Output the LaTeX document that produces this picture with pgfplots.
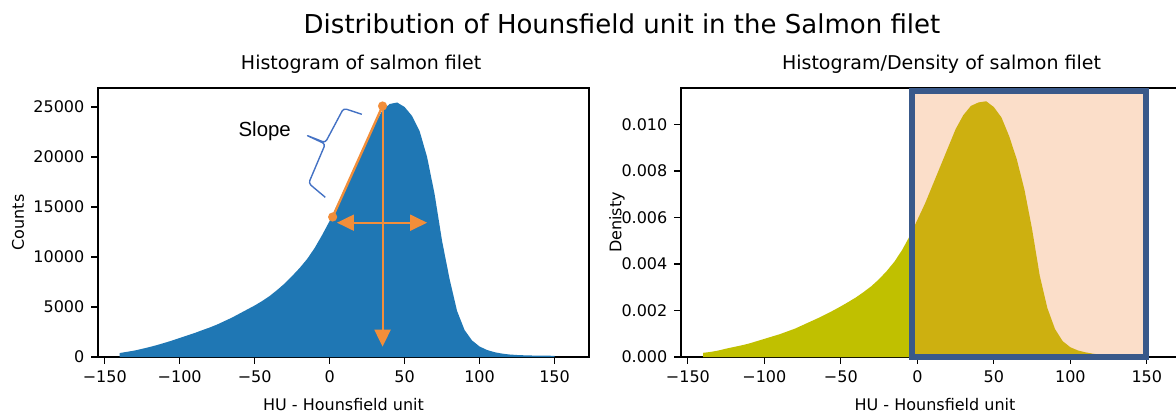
\documentclass[border=0pt]{standalone}
\usepackage{fontspec}
\setmainfont{DejaVu Sans}
\newfontfamily\slopefont{Liberation Sans}
\usepackage{pgfplots}
\pgfplotsset{compat=1.18}
\usetikzlibrary{arrows.meta}

\definecolor{mplblue}{RGB}{31,119,180}
\definecolor{olive}{RGB}{192,192,0}
\definecolor{peach}{RGB}{240,135,60}
\definecolor{boxblue}{RGB}{57,89,138}
\definecolor{annorange}{RGB}{242,142,58}
\definecolor{braceblue}{RGB}{68,114,196}

\pgfplotsset{
  salmon/.style={
    scale only axis,
    anchor=south west,
    height=134.5pt,
    xmin=-154.5, xmax=173,
    xtick={-150,-100,-50,0,50,100,150},
    xticklabels={−150,−100,−50,0,50,100,150},
    scaled ticks=false,
    tick align=outside,
    xtick pos=lower, ytick pos=left,
    major tick length=3.3pt,
    tick style={black, line width=0.6pt},
    axis line style={line width=0.6pt},
    ticklabel style={font=\fontsize{8}{9}\selectfont},
    label style={font=\fontsize{8}{9}\selectfont},
    title style={font=\fontsize{9.5}{11}\selectfont, anchor=base, yshift=3.3pt},
    clip=false,
  }
}

\begin{document}
\begin{tikzpicture}[x=1pt,y=1pt]

\node[font=\fontsize{13}{15}\selectfont, anchor=base] at (311,189.4)
  {Distribution of Hounsfield unit in the Salmon filet};

% left: counts
\begin{axis}[salmon,
  at={(49pt,27.5pt)}, width=245.5pt,
  ymin=0, ymax=26900,
  ytick={0,5000,10000,15000,20000,25000},
  yticklabels={0,5000,10000,15000,20000,25000},
  title={Histogram of salmon filet},
  title style={at={(0.536,1)}},
  xlabel={HU - Hounsfield unit},
  xlabel style={at={(axis description cs:0.5,0)}, anchor=base, yshift=-26.5pt},
  ylabel={Counts},
  ylabel style={at={(axis description cs:-0.163,0.5)}, anchor=center},
]
\addplot[fill=mplblue, draw=none] coordinates {
(-140,400) (-135,520) (-130,650) (-125,820) (-120,1000) (-115,1200)
(-110,1420) (-105,1650) (-100,1900) (-95,2150) (-90,2400) (-85,2680)
(-80,2950) (-75,3250) (-70,3600) (-65,3950) (-60,4350) (-55,4750)
(-50,5150) (-45,5600) (-40,6100) (-35,6700) (-30,7350) (-25,8100)
(-20,8900) (-15,9800) (-10,10900) (-5,12200) (0,13600) (5,15200)
(10,16800) (15,18400) (20,20000) (25,21700) (30,23300) (35,24600)
(40,25300) (45,25450) (50,25000) (55,24100) (60,22600) (65,20000)
(70,16300) (75,11600) (80,7800) (85,4600) (90,2700) (95,1650)
(100,1050) (105,700) (110,480) (115,340) (120,250) (125,200)
(130,170) (135,150) (140,140) (145,130) (150,120)
} \closedcycle;

\draw[annorange, line width=1.2pt] (axis cs:2,14000) -- (axis cs:35.3,25100);
\fill[annorange] (axis cs:2,14000) circle[radius=2.3pt];
\fill[annorange] (axis cs:35.3,25100) circle[radius=2.3pt];
\draw[annorange, line width=1pt, -{Triangle[width=8pt,length=8.5pt]}]
  (axis cs:35.3,25100) -- (axis cs:35.3,1030);
\draw[annorange, line width=1pt,
  {Triangle[width=8pt,length=8.5pt]}-{Triangle[width=8pt,length=8.5pt]}]
  (axis cs:4.9,13430) -- (axis cs:65,13430);
% hand-drawn style curly bracket
\draw[braceblue, line width=0.7pt, rounded corners=1.5pt, line join=round]
  (axis cs:21.5,24270) -- (axis cs:9.3,24870) -- (axis cs:-2.9,21430)
  -- (axis cs:-15.8,22200) -- (axis cs:-2.9,21300) -- (axis cs:-14,17370)
  -- (axis cs:-2.9,15970);
\node[font=\slopefont\fontsize{10.2}{12}\selectfont] at (axis cs:-43.3,22600) {Slope};
\end{axis}

% right: density
\begin{axis}[salmon,
  at={(340.5pt,27.5pt)}, width=250.5pt,
  ymin=0, ymax=0.01157,
  ytick={0,0.002,0.004,0.006,0.008,0.010},
  yticklabels={0.000,0.002,0.004,0.006,0.008,0.010},
  title={Histogram/Density of salmon filet},
  title style={at={(0.52,1)}},
  xlabel={HU - Hounsfield unit},
  xlabel style={at={(axis description cs:0.507,0)}, anchor=base, yshift=-26.5pt},
  ylabel={Denisty},
  ylabel style={at={(axis description cs:-0.128,0.5)}, anchor=center},
]
\addplot[fill=olive, draw=none] coordinates {
(-140,0.00018) (-135,0.00022) (-130,0.00028) (-125,0.00036) (-120,0.00043)
(-115,0.0005) (-110,0.00058) (-105,0.00068) (-100,0.00078) (-95,0.00088)
(-90,0.00098) (-85,0.0011) (-80,0.00122) (-75,0.00137) (-70,0.00152)
(-65,0.00167) (-60,0.00183) (-55,0.002) (-50,0.00218) (-45,0.00237)
(-40,0.00257) (-35,0.0028) (-30,0.00305) (-25,0.00335) (-20,0.0037)
(-15,0.0041) (-10,0.0046) (-5,0.0052) (0,0.0059) (5,0.0066)
(10,0.0074) (15,0.0082) (20,0.009) (25,0.0098) (30,0.0104)
(35,0.0108) (40,0.01095) (45,0.011) (50,0.01075) (55,0.0103)
(60,0.0095) (65,0.0085) (70,0.0072) (75,0.0055) (80,0.0035)
(85,0.0021) (90,0.0012) (95,0.00068) (100,0.00042) (105,0.00028)
(110,0.0002) (115,0.00014) (120,0.0001) (125,0.00007) (130,0.00005)
(135,0.00004) (140,0.00003) (145,0.00003) (150,0.00003)
} \closedcycle;

\draw[draw=boxblue, line width=3pt, fill=peach, fill opacity=0.28, draw opacity=1]
  (axis cs:-3.8,0.00001) rectangle (axis cs:149.4,0.01142);
\end{axis}

\pgfresetboundingbox
\useasboundingbox (0,0) rectangle (588,206);
\end{tikzpicture}
\end{document}
